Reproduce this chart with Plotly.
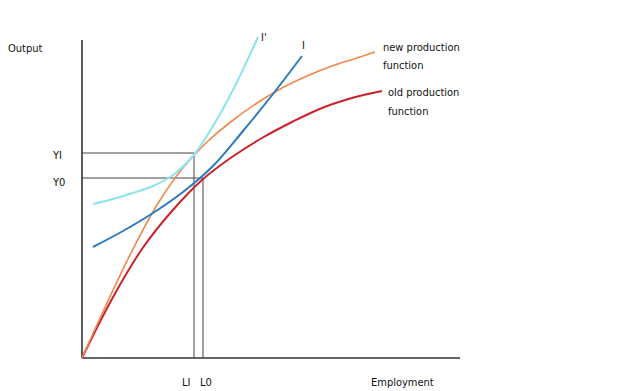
import plotly.graph_objects as go

# Employment (x) and output (y) in chart units (origin at the axes corner)
old_x = [0, 30, 60, 90, 120, 150, 180, 210, 240, 270, 300]
old_y = [0, 59, 109, 147, 178, 201, 220, 236, 250, 260, 267]

new_x = [0, 25, 50, 75, 100, 125, 150, 175, 200, 225, 250, 275, 293]
new_y = [0, 55, 107, 153, 189, 216, 237, 255, 270, 282, 292, 300, 306]

i_x = [11, 41, 71, 101, 131, 161, 191, 220]
i_y = [111, 127, 145, 166, 192, 227, 264, 302]

ip_x = [11, 31, 51, 71, 91, 111, 131, 151, 176]
ip_y = [154, 159, 165, 172, 183, 202, 232, 268, 321]

L1, L0 = 112, 121
Y1, Y0 = 205, 180
X_MAX, Y_MAX = 378, 318

FONT = "Liberation Sans Narrow, DejaVu Sans Condensed, sans-serif"

fig = go.Figure()
curves = [
    (old_x, old_y, "#c8242c", 2),
    (new_x, new_y, "#f0884c", 1.6),
    (i_x, i_y, "#2c7bc0", 2),
    (ip_x, ip_y, "#8ae4ef", 2),
]
for xs, ys, col, w in curves:
    fig.add_trace(go.Scatter(x=xs, y=ys, mode="lines",
                             line=dict(color=col, width=w, shape="spline", smoothing=1.0),
                             showlegend=False, hoverinfo="skip"))

guide = dict(color="#444444", width=1)
axis = dict(color="#333333", width=1.6)
shapes = [
    dict(type="line", x0=0, y0=0, x1=0, y1=Y_MAX, line=axis),
    dict(type="line", x0=0, y0=0, x1=X_MAX, y1=0, line=axis),
    dict(type="line", x0=0, y0=Y1, x1=L1, y1=Y1, line=guide),
    dict(type="line", x0=L1, y0=Y1, x1=L1, y1=0, line=guide),
    dict(type="line", x0=0, y0=Y0, x1=L0, y1=Y0, line=guide),
    dict(type="line", x0=L0, y0=Y0, x1=L0, y1=0, line=guide),
]
for s in shapes:
    s["layer"] = "below"
fig.update_layout(shapes=shapes)

labels = [
    ("Output", -57, 310, "center"),
    ("YI", -25, 203, "center"),
    ("Y0", -24, 176, "center"),
    ("LI", 104, -24, "center"),
    ("L0", 124, -24, "center"),
    ("Employment", 320, -24, "center"),
    ("I'", 182, 321, "center"),
    ("I", 221, 313, "center"),
    ("new production", 299, 311, "left"),
    ("function", 299, 293, "left"),
    ("old production", 304, 266, "left"),
    ("function", 304, 247, "left"),
]
for txt, x, y, anc in labels:
    fig.add_annotation(x=x, y=y, text=txt, showarrow=False, xanchor=anc, yanchor="middle",
                       font=dict(family=FONT, size=11, color="#111111"))

# the page body adds an 8px margin, so the ranges are offset to compensate
fig.update_layout(
    width=640, height=391,
    margin=dict(l=0, r=0, t=0, b=0),
    paper_bgcolor="white", plot_bgcolor="white",
    xaxis=dict(range=[-74, 566], visible=False, fixedrange=True),
    yaxis=dict(range=[-41, 350], visible=False, fixedrange=True),
)
fig.write_html("out.html")
